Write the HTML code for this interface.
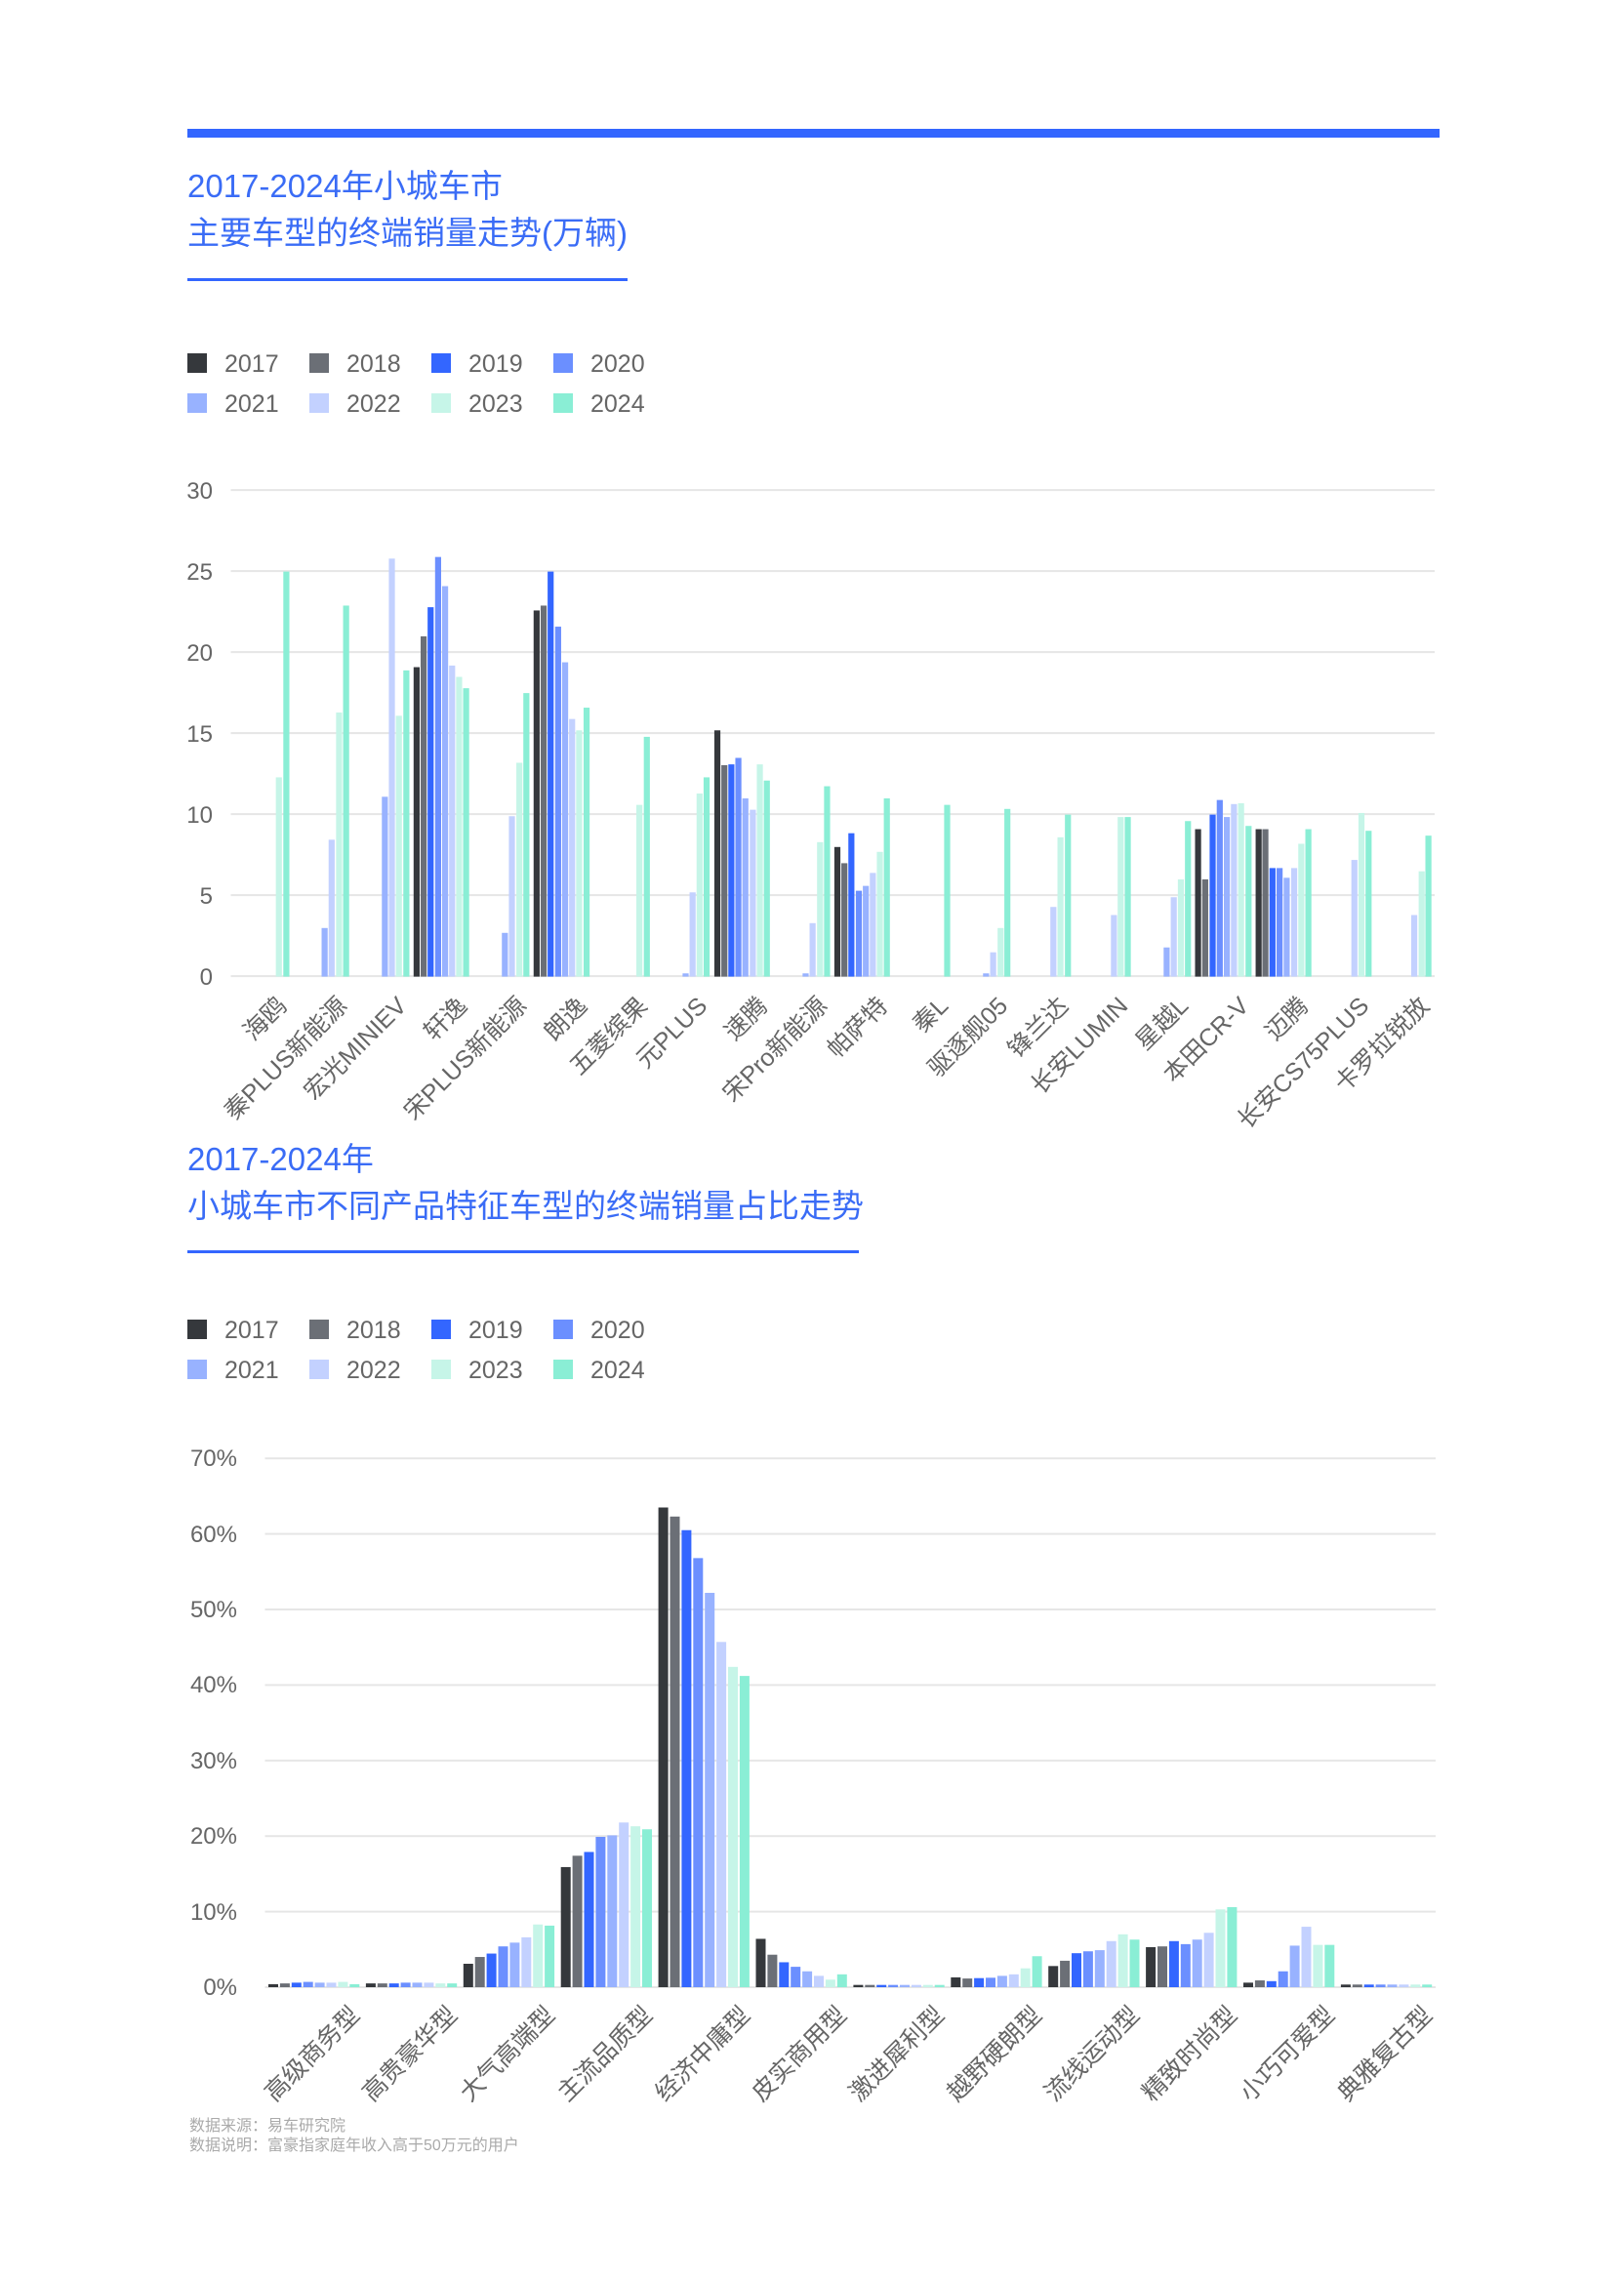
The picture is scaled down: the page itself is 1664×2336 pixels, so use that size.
<!DOCTYPE html>
<html><head><meta charset="utf-8">
<style>
html,body{margin:0;padding:0;background:#fff;}
svg{display:block;}
text{font-family:"Liberation Sans","Noto Sans CJK SC",sans-serif;}
</style></head>
<body>
<svg id="s" width="1664" height="2336" viewBox="0 0 1664 2336" xmlns="http://www.w3.org/2000/svg">
<rect x="0" y="0" width="1664" height="2336" fill="#fff"/>
<rect x="192" y="132" width="1283" height="9" fill="#3366ff"/>
<text x="192" y="202" font-size="33" fill="#3a6cf6">2017-2024年小城车市</text>
<text x="192" y="250" font-size="33" fill="#3a6cf6">主要车型的终端销量走势(万辆)</text>
<rect x="192" y="285" width="451" height="3" fill="#3366ff"/>
<g font-size="25" fill="#666">
<rect x="192" y="362" width="20" height="20" fill="#35383c"/><text x="230" y="381">2017</text>
<rect x="317" y="362" width="20" height="20" fill="#6b6f76"/><text x="355" y="381">2018</text>
<rect x="442" y="362" width="20" height="20" fill="#3366ff"/><text x="480" y="381">2019</text>
<rect x="567" y="362" width="20" height="20" fill="#6b8fff"/><text x="605" y="381">2020</text>
<rect x="192" y="403" width="20" height="20" fill="#98b2ff"/><text x="230" y="422">2021</text>
<rect x="317" y="403" width="20" height="20" fill="#c3d1ff"/><text x="355" y="422">2022</text>
<rect x="442" y="403" width="20" height="20" fill="#c6f5e8"/><text x="480" y="422">2023</text>
<rect x="567" y="403" width="20" height="20" fill="#8aeed5"/><text x="605" y="422">2024</text>
</g>
<g font-size="24" fill="#666" text-anchor="end">
<text x="218" y="1009">0</text><text x="218" y="926">5</text><text x="218" y="843">10</text>
<text x="218" y="760">15</text><text x="218" y="677">20</text><text x="218" y="594">25</text><text x="218" y="511">30</text>
</g>
<g id="g1"></g>
<g font-size="25" fill="#666" text-anchor="end">
<text transform="translate(295,1032) rotate(-45)">海鸥</text>
<text transform="translate(357,1032) rotate(-45)">秦PLUS新能源</text>
<text transform="translate(418,1032) rotate(-45)">宏光MINIEV</text>
<text transform="translate(480,1032) rotate(-45)">轩逸</text>
<text transform="translate(541,1032) rotate(-45)">宋PLUS新能源</text>
<text transform="translate(603,1032) rotate(-45)">朗逸</text>
<text transform="translate(665,1032) rotate(-45)">五菱缤果</text>
<text transform="translate(726,1032) rotate(-45)">元PLUS</text>
<text transform="translate(788,1032) rotate(-45)">速腾</text>
<text transform="translate(849,1032) rotate(-45)">宋Pro新能源</text>
<text transform="translate(911,1032) rotate(-45)">帕萨特</text>
<text transform="translate(973,1032) rotate(-45)">秦L</text>
<text transform="translate(1034,1032) rotate(-45)">驱逐舰05</text>
<text transform="translate(1096,1032) rotate(-45)">锋兰达</text>
<text transform="translate(1157,1032) rotate(-45)">长安LUMIN</text>
<text transform="translate(1219,1032) rotate(-45)">星越L</text>
<text transform="translate(1281,1032) rotate(-45)">本田CR-V</text>
<text transform="translate(1342,1032) rotate(-45)">迈腾</text>
<text transform="translate(1404,1032) rotate(-45)">长安CS75PLUS</text>
<text transform="translate(1466,1032) rotate(-45)">卡罗拉锐放</text>
</g>

<text x="192" y="1199" font-size="33" fill="#3a6cf6">2017-2024年</text>
<text x="192" y="1247" font-size="33" fill="#3a6cf6">小城车市不同产品特征车型的终端销量占比走势</text>
<rect x="192" y="1281" width="688" height="3" fill="#3366ff"/>
<g font-size="25" fill="#666">
<rect x="192" y="1352" width="20" height="20" fill="#35383c"/><text x="230" y="1371">2017</text>
<rect x="317" y="1352" width="20" height="20" fill="#6b6f76"/><text x="355" y="1371">2018</text>
<rect x="442" y="1352" width="20" height="20" fill="#3366ff"/><text x="480" y="1371">2019</text>
<rect x="567" y="1352" width="20" height="20" fill="#6b8fff"/><text x="605" y="1371">2020</text>
<rect x="192" y="1393" width="20" height="20" fill="#98b2ff"/><text x="230" y="1412">2021</text>
<rect x="317" y="1393" width="20" height="20" fill="#c3d1ff"/><text x="355" y="1412">2022</text>
<rect x="442" y="1393" width="20" height="20" fill="#c6f5e8"/><text x="480" y="1412">2023</text>
<rect x="567" y="1393" width="20" height="20" fill="#8aeed5"/><text x="605" y="1412">2024</text>
</g>
<g font-size="24" fill="#666" text-anchor="end">
<text x="243" y="2044">0%</text><text x="243" y="1967">10%</text><text x="243" y="1889">20%</text>
<text x="243" y="1812">30%</text><text x="243" y="1734">40%</text><text x="243" y="1657">50%</text>
<text x="243" y="1580">60%</text><text x="243" y="1502">70%</text>
</g>
<g id="g2"></g>
<g font-size="25" fill="#666" text-anchor="end">
<text transform="translate(370,2066) rotate(-45)">高级商务型</text>
<text transform="translate(470,2066) rotate(-45)">高贵豪华型</text>
<text transform="translate(570,2066) rotate(-45)">大气高端型</text>
<text transform="translate(670,2066) rotate(-45)">主流品质型</text>
<text transform="translate(770,2066) rotate(-45)">经济中庸型</text>
<text transform="translate(869,2066) rotate(-45)">皮实商用型</text>
<text transform="translate(969,2066) rotate(-45)">激进犀利型</text>
<text transform="translate(1069,2066) rotate(-45)">越野硬朗型</text>
<text transform="translate(1169,2066) rotate(-45)">流线运动型</text>
<text transform="translate(1269,2066) rotate(-45)">精致时尚型</text>
<text transform="translate(1369,2066) rotate(-45)">小巧可爱型</text>
<text transform="translate(1469,2066) rotate(-45)">典雅复古型</text>
</g>
<text x="194" y="2183" font-size="16" fill="#aaa">数据来源：易车研究院</text>
<text x="194" y="2203" font-size="16" fill="#aaa">数据说明：富豪指家庭年收入高于50万元的用户</text>
</svg>
<script>
var C=["#35383c","#6b6f76","#3366ff","#6b8fff","#98b2ff","#c3d1ff","#c6f5e8","#8aeed5"];
var NS="http://www.w3.org/2000/svg";
function R(g,x,y,w,h,f){var r=document.createElementNS(NS,"rect");r.setAttribute("x",x);r.setAttribute("y",y);r.setAttribute("width",w);r.setAttribute("height",h);r.setAttribute("fill",f);g.appendChild(r);}
var Y0=1000.6;
var g1=document.getElementById("g1");
for(var i=0;i<=6;i++){R(g1,236.5,Y0-i*83-1.5,1233.5,2,"#e6e6e6");}
var z1=[[221,12.3,6],[237,25,7],[319,3.0,4],[334,8.45,5],[350,16.3,6],[365,22.9,7],[448,11.1,4],[463,25.8,5],[478,16.1,6],[494,18.9,7],[516,19.1,0],[531,21.0,1],[546,22.8,2],[562,25.9,3],[577,24.1,4],[592,19.2,5],[607,18.5,6],[622,17.8,7],[705,2.7,4],[720,9.9,5],[736,13.2,6],[751,17.5,7],[773,22.6,0],[788,22.9,1],[803,25,2],[819,21.6,3],[834,19.4,4],[849,15.9,5],[864,15.2,6],[880,16.6,7],[993,10.6,6],[1009,14.8,7],[1092,0.2,4],[1107,5.2,5],[1122,11.3,6],[1137,12.3,7],[1160,15.2,0],[1175,13.05,1],[1190,13.1,2],[1205,13.5,3],[1220,11.0,4],[1236,10.3,5],[1251,13.1,6],[1266,12.1,7],[1349,0.2,4],[1364,3.3,5],[1380,8.3,6],[1395,11.75,7],[1417,8.0,0],[1432,7.0,1],[1447,8.85,2],[1463,5.3,3],[1478,5.6,4],[1493,6.4,5],[1508,7.7,6],[1523,11.0,7]];
var z2=[[184,10.6,7],[288,0.2,4],[307,1.5,5],[327,3.0,6],[345,10.35,7],[468,4.3,5],[487,8.6,6],[507,10.0,7],[630,3.8,5],[648,9.85,6],[667,9.85,7],[771,1.8,4],[790,4.9,5],[809,6.0,6],[828,9.6,7],[855,9.1,0],[874,6.0,1],[894,10.0,2],[913,10.9,3],[932,9.85,4],[951,10.65,5],[970,10.7,6],[990,9.3,7],[1017,9.1,0],[1035,9.1,1],[1054,6.7,2],[1073,6.7,3],[1092,6.1,4],[1112,6.7,5],[1131,8.2,6],[1150,9.1,7],[1273,7.2,5],[1292,10.1,6],[1311,9.0,7],[1433,3.8,5],[1453,6.5,6],[1471,8.7,7]];
z1.forEach(function(b){var x=180+b[0]/2.09,h=b[1]*16.6;R(g1,x-3.1,Y0-h,6.2,h,C[b[2]]);});
z2.forEach(function(b){var x=900+b[0]/2.61,h=b[1]*16.6;R(g1,x-3.1,Y0-h,6.2,h,C[b[2]]);});
var g2=document.getElementById("g2");
for(var i=0;i<=7;i++){R(g2,271.5,2036-i*77.4-1,1199.5,2,"#e6e6e6");}
var d=[[0.4,0.5,0.6,0.7,0.6,0.6,0.7,0.4],[0.5,0.5,0.5,0.6,0.6,0.6,0.5,0.5],[3.1,4.0,4.45,5.4,5.9,6.6,8.3,8.15],[15.9,17.4,17.9,19.9,20.1,21.8,21.3,20.9],[63.5,62.3,60.5,56.8,52.2,45.7,42.4,41.2],[6.4,4.3,3.3,2.7,2.1,1.5,1.0,1.7],[0.3,0.3,0.3,0.3,0.3,0.3,0.3,0.3],[1.3,1.15,1.2,1.25,1.5,1.7,2.5,4.1],[2.8,3.5,4.5,4.75,4.9,6.1,7.0,6.3],[5.3,5.4,6.1,5.7,6.3,7.2,10.3,10.6],[0.6,0.9,0.8,2.1,5.5,8.0,5.6,5.6],[0.35,0.35,0.35,0.35,0.35,0.35,0.35,0.35]];
d.forEach(function(g,i){g.forEach(function(v,j){var x=280+99.9*i+11.9*j,h=v*7.74;R(g2,x-5,2036-h,10,h,C[j]);});});
</script>
</body></html>
